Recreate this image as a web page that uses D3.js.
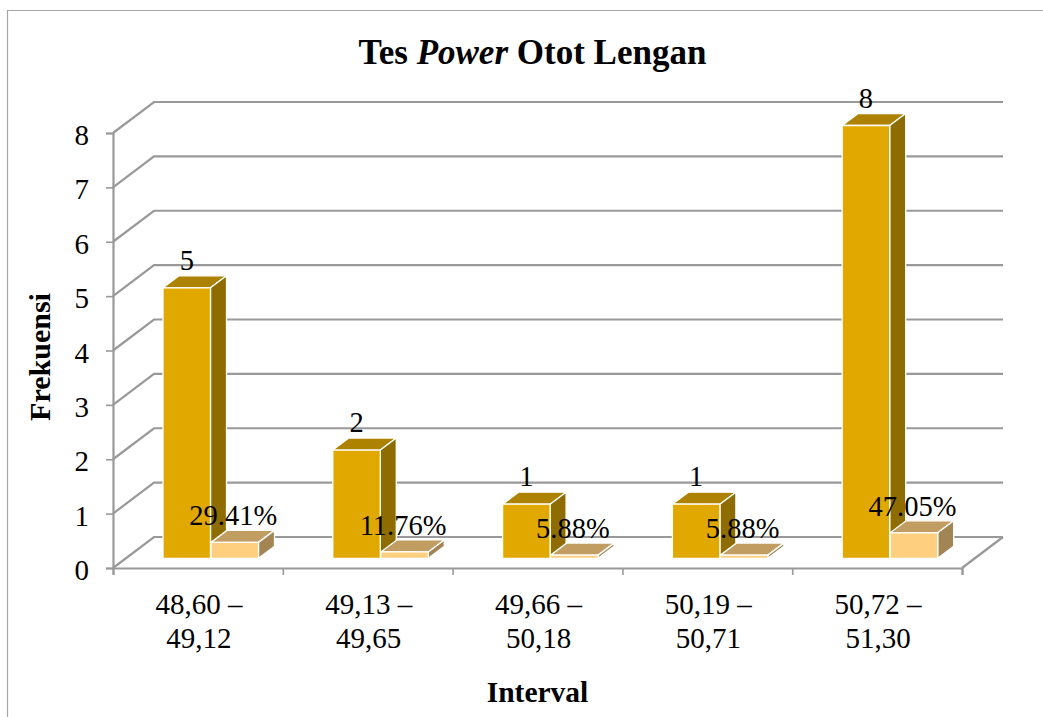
<!DOCTYPE html>
<html>
<head>
<meta charset="utf-8">
<script src="https://cdn.jsdelivr.net/npm/d3@7"></script>
<style>
  html, body { margin: 0; padding: 0; background: #fff; overflow: hidden; }
  text { font-family: "Liberation Serif", serif; fill: #000; }
</style>
</head>
<body>
<div id="chart"></div>
<script>
const categories = [["48,60 –", "49,12"], ["49,13 –", "49,65"], ["49,66 –", "50,18"], ["50,19 –", "50,71"], ["50,72 –", "51,30"]];
const frekuensi = [5, 2, 1, 1, 8];
const persen = [29.41, 11.76, 5.88, 5.88, 47.05];
const persenLabels = ["29.41%", "11.76%", "5.88%", "5.88%", "47.05%"];
const yTicks = [0, 1, 2, 3, 4, 5, 6, 7, 8];

const w = 1043;
const h = 717;
const grey = "#999";

// wall offset of the 3d box, bar depth offset
const wallX = 41, wallY = -31;
const depthX = 16, depthY = -12;

const svg = d3.select("#chart").append("svg")
  .attr("width", w)
  .attr("height", h);

// outer chart frame, only top and left show in the picture
svg.append("path")
  .attr("d", "M7.5,717V10.5H1043")
  .attr("fill", "none")
  .attr("stroke", "#a6a6a6")
  .attr("stroke-width", 1.2);

const x = d3.scaleBand()
  .domain(d3.range(categories.length))
  .range([113, 962]);

const y = d3.scaleLinear().domain([0, 8]).range([568, 133]);
// bars stand a little inside the floor
const yBar = d3.scaleLinear().domain([0, 8]).range([558.3, 125.5]);

// gridlines: diagonal on the side wall then along the back wall
svg.append("g").selectAll("path")
  .data(yTicks)
  .enter()
  .append("path")
  .attr("d", d => `M${x.range()[0]},${y(d)}l${wallX},${wallY}H${x.range()[1] + wallX}`)
  .attr("fill", "none")
  .attr("stroke", grey)
  .attr("stroke-width", 2.2);

// floor right edge
svg.append("line")
  .attr("x1", x.range()[1]).attr("y1", y(0))
  .attr("x2", x.range()[1] + wallX).attr("y2", y(0) + wallY)
  .attr("stroke", grey).attr("stroke-width", 2.2);

const yAxis = d3.axisLeft(y).tickValues(yTicks).tickSize(7).tickPadding(17).tickFormat(d3.format("d"));
const yG = svg.append("g").attr("transform", `translate(${x.range()[0]},0)`).call(yAxis);
yG.select(".domain").attr("stroke", grey).attr("stroke-width", 2.2);
yG.selectAll(".tick line").attr("stroke", grey).attr("stroke-width", 1.6);
yG.selectAll("text")
  .attr("font-size", 29)
  .attr("font-family", "Liberation Serif")
  .attr("fill", "#000")
  .attr("dy", "0.4em");

const xAxis = d3.axisBottom(d3.scaleLinear().domain([0, 5]).range(x.range()))
  .ticks(5).tickSize(7).tickFormat("");
const xG = svg.append("g").attr("transform", `translate(0,${y(0)})`).call(xAxis);
xG.select(".domain").attr("stroke", grey).attr("stroke-width", 2.2);
xG.selectAll(".tick line").attr("stroke", grey).attr("stroke-width", 1.6);

const barW = 47.5;
const barOffset = 50;

function drawBar(g, bx, top, colors) {
  const base = yBar(0);
  g.append("path") // top
    .attr("d", `M${bx},${top}l${depthX},${depthY}h${barW}l${-depthX},${-depthY}z`)
    .attr("fill", colors[1]);
  g.append("path") // side
    .attr("d", `M${bx + barW},${top}l${depthX},${depthY}V${base + depthY}l${-depthX},${-depthY}z`)
    .attr("fill", colors[2]);
  g.append("rect") // front
    .attr("x", bx).attr("y", top)
    .attr("width", barW).attr("height", base - top)
    .attr("fill", colors[0]);
  g.selectAll("*").attr("stroke", "#fff").attr("stroke-width", 1.3).attr("stroke-linejoin", "round");
}

const goldColors = ["#e1a900", "#ad8200", "#8f6c00"];
const lightColors = ["#ffcf80", "#c29d61", "#a38453"];

categories.forEach((c, i) => {
  const x0 = x(i) + barOffset;
  drawBar(svg.append("g"), x0, yBar(frekuensi[i]), goldColors);
  drawBar(svg.append("g"), x0 + barW + 0.5, yBar(persen[i] / 100), lightColors);
});

// data labels over the bars
const fontSize = 28.5;
svg.append("g").selectAll("text")
  .data(frekuensi)
  .enter()
  .append("text")
  .attr("x", (d, i) => x(i) + barOffset + barW / 2)
  .attr("y", d => yBar(d) + depthY - 6)
  .attr("text-anchor", "middle")
  .attr("font-size", fontSize)
  .text(d => d);

svg.append("g").selectAll("text")
  .data(persen)
  .enter()
  .append("text")
  .attr("x", (d, i) => x(i) + barOffset + barW * 1.5 - 1)
  .attr("y", d => yBar(d / 100) + depthY - 5)
  .attr("text-anchor", "middle")
  .attr("font-size", fontSize)
  .text((d, i) => persenLabels[i]);

// category labels
const catText = svg.append("g").selectAll("text")
  .data(categories)
  .enter()
  .append("text")
  .attr("text-anchor", "middle")
  .attr("font-size", 29);
catText.selectAll("tspan")
  .data((d, i) => d.map(s => ({ s: s, i: i })))
  .enter()
  .append("tspan")
  .attr("x", d => x(d.i) + x.bandwidth() / 2 + 1)
  .attr("y", (d, j) => 614 + j * 33.5)
  .text(d => d.s);

// titles
const title = svg.append("text")
  .attr("x", 532.5)
  .attr("y", 64)
  .attr("text-anchor", "middle")
  .attr("font-size", 35)
  .attr("font-weight", "bold");
title.append("tspan").text("Tes ");
title.append("tspan").attr("font-style", "italic").text("Power");
title.append("tspan").text(" Otot Lengan");

svg.append("text")
  .attr("x", 537.5)
  .attr("y", 702)
  .attr("text-anchor", "middle")
  .attr("font-size", 29.5)
  .attr("font-weight", "bold")
  .text("Interval");

svg.append("text")
  .attr("transform", "translate(50,357) rotate(-90)")
  .attr("text-anchor", "middle")
  .attr("font-size", 30)
  .attr("font-weight", "bold")
  .text("Frekuensi");
</script>
</body>
</html>
